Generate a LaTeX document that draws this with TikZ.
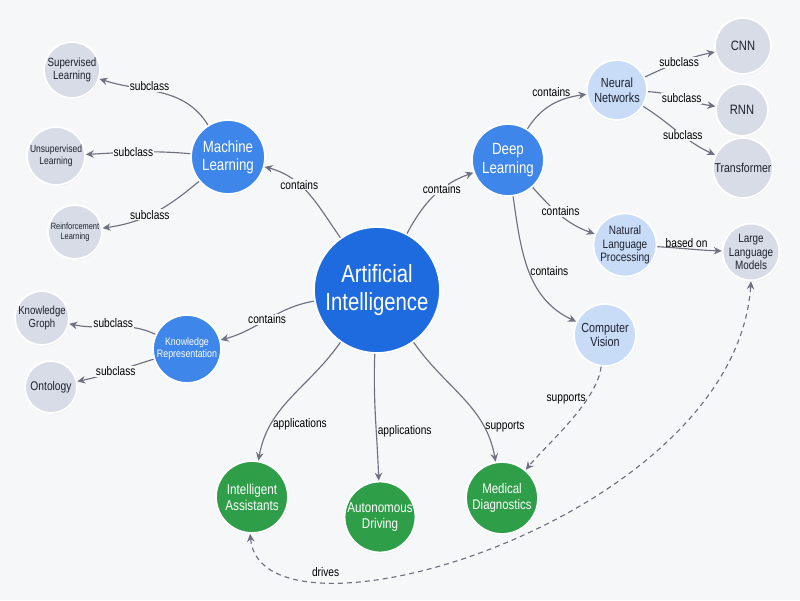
\documentclass[tikz,border=0pt]{standalone}
\usepackage{fontspec}
\setmainfont{Liberation Sans}[FakeStretch=0.82]
\usetikzlibrary{arrows.meta,shadows}
\definecolor{bg}{HTML}{F6F7F9}
\definecolor{aiblue}{HTML}{1E6BE0}
\definecolor{midblue}{HTML}{3F86EA}
\definecolor{lightblue}{HTML}{C8DCF7}
\definecolor{grayfill}{HTML}{D7DCE6}
\definecolor{greenfill}{HTML}{2F9E49}
\definecolor{edgegray}{HTML}{6E7280}
\definecolor{txt}{HTML}{1E2230}
\tikzset{
  base/.style={circle, draw=white, line width=1.8pt, align=center, inner sep=0pt,
    drop shadow={opacity=0.12, shadow xshift=0.6pt, shadow yshift=-1.2pt}},
  ainode/.style={base, fill=aiblue, text=white},
  bluenode/.style={base, fill=midblue, text=white},
  lightnode/.style={base, fill=lightblue, text=txt},
  graynode/.style={base, fill=grayfill, text=txt},
  greennode/.style={base, fill=greenfill, text=white},
  edge/.style={draw=edgegray, line width=1.15pt, -{Stealth[length=8pt,width=7.5pt]}},
  dashedge/.style={edge, dash pattern=on 5pt off 4pt},
  lbl/.style={fill=bg, inner sep=1pt, text=black, font=\fontsize{12.4}{14}\selectfont},
  fs/.style={font=\pgfmathsetlengthmacro\fssz{#1*1.08}\pgfmathsetlengthmacro\fsbs{#1*1.08*1.13}\fontsize{\fssz}{\fsbs}\selectfont}
}
\begin{document}
\begin{tikzpicture}[x=1pt,y=1pt]
\fill[bg] (0,0) rectangle (800,-600);
\useasboundingbox (0,0) rectangle (800,-600);

% nodes
\node[ainode, minimum size=126pt, fs=23] (AI) at (377,-290) {Artificial\\Intelligence};
\node[bluenode, minimum size=74pt, fs=15] (ML) at (228,-157) {Machine\\Learning};
\node[graynode, minimum size=56pt, fs=11] (SL) at (72,-70) {Supervised\\Learning};
\node[graynode, minimum size=58pt, fs=9.6] (UL) at (56,-156) {Unsupervised\\Learning};
\node[graynode, minimum size=54pt, fs=8.4] (RL) at (75,-232) {Reinforcement\\Learning};
\node[bluenode, minimum size=68pt, fs=10] (KR) at (187,-349) {Knowledge\\Representation};
\node[graynode, minimum size=54pt, fs=10.8] (KG) at (42,-318) {Knowledge\\Groph};
\node[graynode, minimum size=52pt, fs=11.6] (ON) at (51,-387) {Ontology};
\node[bluenode, minimum size=72pt, fs=15] (DL) at (508,-160) {Deep\\Learning};
\node[lightnode, minimum size=60pt, fs=12.3] (NN) at (617,-90) {Neural\\Networks};
\node[graynode, minimum size=56pt, fs=12.6] (CNN) at (743,-46) {CNN};
\node[graynode, minimum size=52pt, fs=12.6] (RNN) at (742,-110) {RNN};
\node[graynode, minimum size=60pt, fs=11.9] (TR) at (743,-168) {Transformer};
\node[lightnode, minimum size=62pt, fs=11.3] (NLP) at (625,-245) {Natural\\Language\\Processing};
\node[graynode, minimum size=56pt, fs=11.2] (LLM) at (751,-252) {Large\\Language\\Models};
\node[lightnode, minimum size=62pt, fs=12.2] (CV) at (605,-335) {Computer\\Vision};
\node[greennode, minimum size=72pt, fs=13.2] (IA) at (252,-497) {Intelligent\\Assistants};
\node[greennode, minimum size=70pt, fs=13.1] (AD) at (380,-517) {Autonomous\\Driving};
\node[greennode, minimum size=72pt, fs=12.9] (MD) at (502,-498) {Medical\\Diagnostics};

% edges from AI
\draw[edge] (AI) to[out=125,in=-15] node[lbl,pos=0.63]{contains} (ML);
\draw[edge] (AI) to[out=62,in=200] node[lbl,pos=0.62]{contains} (DL);
\draw[edge] (AI) to[out=190,in=15] node[lbl,pos=0.5]{contains} (KR);
\draw[edge] (AI) to[out=235,in=80] node[lbl,pos=0.74,right,fill=none]{applications} (IA);
\draw[edge] (AI) to[out=268,in=92] node[lbl,pos=0.62,right,fill=none]{applications} (AD);
\draw[edge] (AI) to[out=-55,in=100] node[lbl,pos=0.76,right,fill=none]{supports} (MD);

% machine learning
\draw[edge] (ML) to[out=122,in=-18] node[lbl,pos=0.6,yshift=4pt]{subclass} (SL);
\draw[edge] (ML) to[out=175,in=3] node[lbl,pos=0.55]{subclass} (UL);
\draw[edge] (ML) to[out=220,in=8] node[lbl,pos=0.55]{subclass} (RL);

% knowledge representation
\draw[edge] (KR) to[out=155,in=-12] node[lbl,pos=0.5,yshift=3pt]{subclass} (KG);
\draw[edge] (KR) to[out=197,in=12] node[lbl,pos=0.5]{subclass} (ON);

% deep learning
\draw[edge] (DL) to[out=58,in=188] node[lbl,pos=0.55,xshift=-4pt,yshift=11pt,fill=none]{contains} (NN);
\draw[edge] (NN) to[out=25,in=192] node[lbl,pos=0.5]{subclass} (CNN);
\draw[edge] (NN) to[out=-3,in=172] node[lbl,pos=0.5]{subclass} (RNN);
\draw[edge] (NN) to[out=-32,in=155] node[lbl,pos=0.57]{subclass} (TR);
\draw[edge] (DL) to[out=-48,in=160] node[lbl,pos=0.5,yshift=4pt]{contains} (NLP);
\draw[edge] (NLP) to[out=-3,in=178] node[lbl,pos=0.45,above,fill=none]{based on} (LLM);
\draw[edge] (DL) to[out=-82,in=155] node[lbl,pos=0.5,right,fill=none]{contains} (CV);

% dashed
\draw[dashedge] (CV) to[out=-97,in=50,looseness=0.7] node[lbl,pos=0.3,left,fill=none]{supports} (MD);
\draw[dashedge, {Stealth[length=8pt,width=7.5pt]}-{Stealth[length=8pt,width=7.5pt]}] (IA.-93) .. controls (262,-660) and (735,-520) .. node[lbl,pos=0.24,above,yshift=3pt,fill=none]{drives} (LLM.-90);
\end{tikzpicture}
\end{document}
